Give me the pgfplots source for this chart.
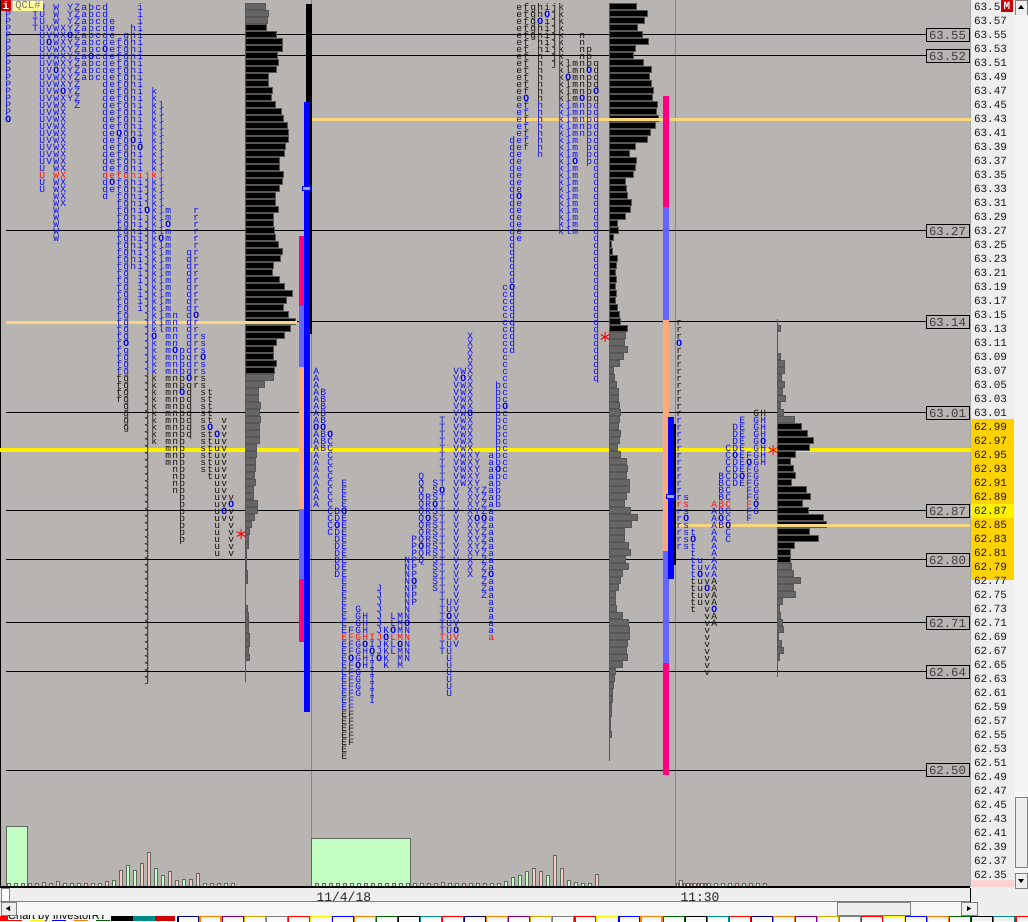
\documentclass[border=0pt]{standalone}
\usepackage{pgfplots}
\pgfplotsset{compat=1.18}
\usepackage{fontspec}
\setmainfont{Liberation Sans}
\newfontfamily\monofam{Liberation Mono}
\definecolor{bg}{HTML}{B8B4B2}
\definecolor{strip}{HTML}{EEEEEE}
\definecolor{zone}{HTML}{FFD200}
\definecolor{vpink}{HTML}{FF0080}
\definecolor{vlblue}{HTML}{6464FF}
\definecolor{vsalm}{HTML}{FFA878}
\definecolor{vblue}{HTML}{0000FF}
\definecolor{fawn}{HTML}{F6D67E}
\definecolor{poc}{HTML}{FFF000}
\definecolor{tpoB}{HTML}{1010F4}
\definecolor{tpoK}{HTML}{181410}
\definecolor{tpoO}{HTML}{0000E0}
\definecolor{tpoR}{HTML}{FF1010}
\definecolor{vg}{HTML}{C4FFC4}
\definecolor{vp}{HTML}{FFC8C8}
\definecolor{vedge}{HTML}{5E6A5E}
\definecolor{pgray}{HTML}{666666}
\definecolor{pedge}{HTML}{565656}
\definecolor{navy}{HTML}{000080}
\definecolor{gold}{HTML}{D4A800}
\definecolor{dgreen}{HTML}{006400}
\definecolor{tealx}{HTML}{008B8B}
% TPO letter stacks: a node holds one period's column, from top row to bottom row (in cents)
\newcount\tpoRow
\def\tpofont{\monofam\fontsize{9.6}{7}\selectfont}
\def\tpoGlyph#1#2{\ifnum\tpoRow=#2\relax\textcolor{tpoO}{\bfseries O}\else
  \ifnum\tpoRow=\tpoRed\relax\textcolor{tpoR}{#1}\else
  \ifnum\tpoRow>\tpoHi\relax\textcolor{tpoK}{#1}\else
  \ifnum\tpoRow<\tpoLo\relax\textcolor{tpoK}{#1}\else
  \textcolor{tpoB}{#1}\fi\fi\fi\fi}
\def\tpoCell#1#2{\hbox to 7pt{\hss\vbox to 7pt{\vss\hbox{\smash{\raisebox{0.3pt}{\tpoGlyph{#1}{#2}}}}}\hss}}
\def\tpoStack#1,#2,#3,#4\relax{\vbox{\offinterlineskip\tpoRow=#2\relax
  \loop\tpoCell{#1}{#4}\ifnum\tpoRow>#3\relax\advance\tpoRow by -1\repeat}}
\pgfplotsset{
  tpo/.style n args={3}{only marks,mark=none,point meta=explicit symbolic,
    every node near coord/.style={anchor=north,inner sep=0pt,outer sep=0pt,font=\tpofont,yshift=3.5pt,xshift=0.3pt},
    nodes near coords={\def\tpoHi{#1}\def\tpoLo{#2}\def\tpoRed{#3}\expandafter\tpoStack\pgfplotspointmeta\relax}},
  base/.style={at={(0,0)},anchor=south west,width=972pt,height=887pt,scale only axis,
    xmin=0,xmax=972,ymin=62.33286,ymax=63.6,axis lines=none},
  prof/.style={at={(0,0)},anchor=south west,width=972pt,height=887pt,scale only axis,
    xmin=-#1,xmax=972-#1,ymin=62.33286,ymax=63.6,axis lines=none,xbar,bar width=6pt,bar shift=0pt},
  pk/.style={fill=black,draw=pedge,line width=1pt},
  pg/.style={fill=pgray,draw=pedge,line width=1pt},
  rc/.style={fill=#1,draw=none},
  lvl/.style={black,line width=1pt,forget plot},
}
\begin{document}
\begin{tikzpicture}
\useasboundingbox (0,-34pt) rectangle (1028pt,887pt);
\begin{scope}[x=1pt,y=-1pt,yshift=887pt]
  \fill[white] (0,0) rectangle (1028,921);
  \fill[bg] (0,0) rectangle (971,887);
  \fill[strip] (971,0) rectangle (1014,887);
  \fill[zone] (971,419) rectangle (1014,580);
  \fill[yellow] (971,504) rectangle (1014,518);
  \fill[vp!80!white] (971,880) rectangle (1014,887);
  \fill[strip] (1014,0) rectangle (1028,887);
  \fill[gray!70] (970,0) rectangle (971,887);
  \fill[strip] (0,887) rectangle (1028,901);
  \fill[black] (0,0) rectangle (1,887);
  \fill[white!97!black] (0,901) rectangle (970,921);
  \fill[strip] (970,887) rectangle (1028,921);
  \draw[black] (970,888) -- (970,915) ;
  \draw[gray] (0,901.5) -- (970,901.5);
\end{scope}
% price axis, levels, session separators
\begin{axis}[at={(0,0)},anchor=south west,width=972pt,height=887pt,scale only axis,
  xmin=0,xmax=972,ymin=62.33286,ymax=63.6,
  axis x line*=bottom,axis y line*=right,axis line style={draw=none},
  major tick length=0pt,
  ytick={62.35,62.37,...,63.59},
  xtick={313,677},xticklabels={11/4/18,11:30},
  xticklabel style={anchor=west,yshift=-10pt,xshift=0pt,font=\monofam\fontsize{13}{13}\selectfont,text=black!85},
  yticklabel style={anchor=west,xshift=-1.5pt,font=\monofam\fontsize{11}{11}\selectfont,text=black!90,
    /pgf/number format/.cd,fixed,fixed zerofill,precision=2,assume math mode=true},
  ]
  \addplot[gray!90!bg,line width=1pt,forget plot] coordinates {(311.5,63.6)(311.5,62.33286)};
  \addplot[gray!90!bg,line width=1pt,forget plot] coordinates {(675.5,63.6)(675.5,62.33286)};
  \addplot[poc,line width=4pt,forget plot] coordinates {(0,62.9571)(971,62.9571)};
  \addplot[lvl] coordinates {(6,63.55)(926,63.55)};
  \addplot[lvl] coordinates {(6,63.52)(926,63.52)};
  \addplot[lvl] coordinates {(6,63.27)(926,63.27)};
  \addplot[lvl] coordinates {(6,63.14)(926,63.14)};
  \addplot[lvl] coordinates {(6,63.01)(926,63.01)};
  \addplot[lvl] coordinates {(6,62.87)(926,62.87)};
  \addplot[lvl] coordinates {(6,62.80)(926,62.80)};
  \addplot[lvl] coordinates {(6,62.71)(926,62.71)};
  \addplot[lvl] coordinates {(6,62.64)(926,62.64)};
  \addplot[lvl] coordinates {(6,62.50)(926,62.50)};
  \addplot[pedge,line width=1pt] coordinates {(245.5,63.02)(245.5,62.625)};
  \addplot[pedge,line width=1pt] coordinates {(609.5,62.6)(609.5,62.513)};
  \addplot[pedge,line width=1pt] coordinates {(777.5,63.144)(777.5,62.633)};
  \addplot[only marks,mark=none,point meta=explicit symbolic,
    every node near coord/.style={anchor=center,inner sep=0pt,draw=black,line width=1pt,fill=bg,
      minimum width=43pt,minimum height=13pt,text=black!75,font=\monofam\fontsize{12.3}{12}\selectfont},
    nodes near coords] coordinates {
    (947.5,63.55) [63.55] (947.5,63.52) [63.52] (947.5,63.27) [63.27] (947.5,63.14) [63.14]
    (947.5,63.01) [63.01] (947.5,62.87) [62.87] (947.5,62.80) [62.80] (947.5,62.71) [62.71]
    (947.5,62.64) [62.64] (947.5,62.50) [62.50]};
\end{axis}
% volume bars
\begin{axis}[at={(0,0)},anchor=south west,width=972pt,height=887pt,scale only axis,
  xmin=0,xmax=972,ymin=0,ymax=887,axis lines=none,ybar,bar shift=0pt]
  \addplot[fill=vg,draw=vedge,line width=1pt,bar width=21.5pt] coordinates {(17,60)};
  \addplot[fill=vg,draw=vedge,line width=1pt,bar width=99pt] coordinates {(361.3,48)};
  \addplot[fill=vg,draw=vedge,line width=1pt,bar width=2.6pt] coordinates {
    (9,3.7)(16,4)(65,4)(72,4)(79,4)(93,4)(100,4)(114,7)(128,22)(135,17)(156,19)(163,12)(184,8)(205,4)(226,4)
    (324,4)(338,4)(352,4)(359,4)(380,4)(387,4)(401,4)(408,4)(415,4)(422,4)(450,4)(457,4)(471,4)(478,4)(492,4)(499,4)(506,6)(513,10)(520,12)(527,16)(548,12)(569,7)(576,5)(583,4)(590,4)
    (715.7,4)(722.7,4)(729.7,4)(743.7,4)(757.7,4)};
  \addplot[fill=vp,draw=vedge,line width=1pt,bar width=2.6pt] coordinates {
    (23,4)(30,4)(37,4)(44,5)(51,4)(58,6)(86,4)(107,6)(121,17)(142,24)(149,34)(170,16)(177,7)(191,8)(198,14)(212,4)(219,4)(233,4)
    (317,4)(331,4)(345,4)(366,4)(373,4)(394,4)(429,4)(436,4)(443,5)(464,4)(485,4)(534,19)(541,16)(555,31)(562,19)(597,13)
    (677.3,3.5)(681,7)(684.5,3.7)(688,3.7)(691.5,3.7)(695,3.7)(698.5,3.7)(702,3.7)(705.5,3.7)(709,3.7)
    (736.7,4)(750.7,4)(764.7,4)};
\end{axis}
% left profile
\begin{axis}[prof=245]
  \addplot[pg] coordinates {(20,63.59)(23,63.58)(22,63.57)
   (28,63.06)(19,63.05)(13,63.04)(13,63.03)(15,63.02)(14,63.01)(15,63.00)(14,62.99)(14,62.98)(14,62.97)
   (11,62.96)(11,62.95)(10,62.94)(10,62.93)(9,62.92)(10,62.91)(8,62.90)(8,62.89)(12,62.88)(12,62.87)(9,62.86)
   (6,62.85)(4,62.84)(3,62.83)(3,62.82)(1,62.81)(1,62.80)(1,62.79)(2,62.78)(2,62.77)
   (2,62.73)(3,62.72)(3,62.71)(3,62.70)(4,62.69)(4,62.68)(3,62.67)(4,62.66)};
  \addplot[pk] coordinates {(21,63.56)(31,63.55)(37,63.54)(37,63.53)(32,63.52)(33,63.51)(31,63.50)(23,63.49)(23,63.48)(27,63.47)
   (26,63.46)(30,63.45)(36,63.44)(38,63.43)(42,63.42)(43,63.41)(43,63.40)(40,63.39)(39,63.38)(34,63.37)
   (34,63.36)(38,63.35)(37,63.34)(34,63.33)(30,63.32)(30,63.31)(33,63.30)(28,63.29)(28,63.28)(29,63.27)
   (30,63.26)(33,63.25)(37,63.24)(35,63.23)(28,63.22)(27,63.21)(34,63.20)(39,63.19)(47,63.18)(41,63.17)
   (38,63.16)(43,63.15)(50,63.14)(45,63.13)(39,63.12)(31,63.11)(28,63.10)(28,63.09)(31,63.08)(29,63.07)};
\end{axis}
% middle profile
\begin{axis}[prof=609]
  \addplot[pk] coordinates {(27,63.59)(38,63.58)(35,63.57)(28,63.56)(33,63.55)(39,63.54)(26,63.53)(24,63.52)(34,63.51)(42,63.50)
   (40,63.49)(42,63.48)(44,63.47)(43,63.46)(48,63.45)(47,63.44)(49,63.43)(46,63.42)(41,63.41)(38,63.40)
   (26,63.39)(20,63.38)(27,63.37)(26,63.36)(24,63.35)(16,63.34)(17,63.33)(18,63.32)(22,63.31)(21,63.30)
   (16,63.29)(8,63.28)(9,63.27)(4,63.26)(2,63.25)(3,63.24)(8,63.23)(7,63.22)(6,63.21)(7,63.20)
   (6,63.19)(7,63.18)(6,63.17)(8,63.16)(10,63.15)(11,63.14)(18,63.13)};
  \addplot[pg] coordinates {(16,63.12)(15,63.11)(18,63.10)(14,63.09)(10,63.08)(4,63.07)(5,63.06)(7,63.05)(9,63.04)(9,63.03)
   (10,63.02)(11,63.01)(10,63.00)(9,62.99)(11,62.98)(10,62.97)(8,62.96)(11,62.95)(17,62.94)(18,62.93)
   (17,62.92)(20,62.91)(20,62.90)(17,62.89)(15,62.88)(21,62.87)(28,62.86)(22,62.85)(15,62.84)(15,62.83)
   (19,62.82)(21,62.81)(16,62.80)(19,62.79)(13,62.78)(11,62.77)(9,62.76)(6,62.75)(6,62.74)(7,62.73)
   (13,62.72)(19,62.71)(20,62.70)(20,62.69)(18,62.68)(17,62.67)(18,62.66)(13,62.65)(6,62.64)(5,62.63)
   (4,62.62)(3,62.61)(3,62.60)(2,62.59)(2,62.58)(1,62.57)(1,62.56)(2,62.55)};
\end{axis}
% right profile
\begin{axis}[prof=777]
  \addplot[pg] coordinates {(3,63.13)(3,63.09)(7,63.08)(7,63.07)(4,63.06)(7,63.05)(5,63.04)(8,63.03)(3,63.02)(6,63.01)(17,63.00)
   (14,62.79)(16,62.78)(23,62.77)(16,62.76)(18,62.75)(5,62.74)(2,62.73)(3,62.72)(5,62.71)(6,62.70)(1,62.69)(4,62.68)(6,62.67)(2,62.66)};
  \addplot[pk] coordinates {(24,62.99)(30,62.98)(36,62.97)(32,62.96)(18,62.95)(13,62.94)(16,62.93)(18,62.92)(14,62.91)(29,62.90)
   (33,62.89)(25,62.88)(31,62.87)(46,62.86)(49,62.85)(32,62.84)(41,62.83)(17,62.82)(13,62.81)(13,62.80)};
\end{axis}
% value-area and range bars, developing levels, marks
\begin{axis}[base,clip=false]
  \addplot[fawn,line width=3pt] coordinates {(6,63.1386)(297,63.1386)};
  \addplot[fawn,line width=3pt] coordinates {(311,63.4286)(971,63.4286)};
  \addplot[fawn,line width=3pt] coordinates {(676,62.8486)(970,62.8486)};
  \addplot[rc=vpink] coordinates {(299,63.2629)(304,63.2629)(304,63.1629)(299,63.1629)} --cycle;
  \addplot[rc=vlblue] coordinates {(299,63.1629)(304,63.1629)(304,63.0757)(299,63.0757)} --cycle;
  \addplot[rc=vsalm] coordinates {(299,63.0757)(304,63.0757)(304,62.8729)(299,62.8729)} --cycle;
  \addplot[rc=vlblue] coordinates {(299,62.8729)(304,62.8729)(304,62.7729)(299,62.7729)} --cycle;
  \addplot[rc=vpink] coordinates {(299,62.7729)(304,62.7729)(304,62.6829)(299,62.6829)} --cycle;
  \addplot[rc=black] coordinates {(306,63.5943)(312,63.5943)(312,63.1229)(306,63.1229)} --cycle;
  \addplot[rc=vblue] coordinates {(304,63.4543)(310,63.4543)(310,62.5829)(304,62.5829)} --cycle;
  \addplot[fill=vlblue!60!white,draw=vblue,line width=.6pt] coordinates {(302.5,63.3343)(310.5,63.3343)(310.5,63.3286)(302.5,63.3286)} --cycle;
  \addplot[rc=vpink] coordinates {(663,63.4629)(669,63.4629)(669,63.3043)(663,63.3043)} --cycle;
  \addplot[rc=vlblue] coordinates {(663,63.3043)(669,63.3043)(669,63.1429)(663,63.1429)} --cycle;
  \addplot[rc=vsalm] coordinates {(663,63.1429)(669,63.1429)(669,62.8129)(663,62.8129)} --cycle;
  \addplot[rc=vlblue] coordinates {(663,62.8129)(669,62.8129)(669,62.6529)(663,62.6529)} --cycle;
  \addplot[rc=vpink] coordinates {(663,62.6529)(669,62.6529)(669,62.4929)(663,62.4929)} --cycle;
  \addplot[rc=vblue] coordinates {(668,63.0043)(674,63.0043)(674,62.7729)(668,62.7729)} --cycle;
  \addplot[rc=black] coordinates {(674,62.9943)(676,62.9943)(676,62.7929)(674,62.7929)} --cycle;
  \addplot[fill=vlblue!60!white,draw=vblue,line width=.6pt] coordinates {(666,62.8943)(674,62.8943)(674,62.8886)(666,62.8886)} --cycle;
  \addplot[only marks,mark=asterisk,mark size=5pt,color=red,mark options={line width=1pt}] coordinates {(241,62.8371)(605,63.1186)(773,62.9571)};
\end{axis}
% TPO letters: (x, top row) [letter, top row, bottom row, opening-mark row]
\begin{axis}[at={(0,0)},anchor=south west,width=972pt,height=887pt,scale only axis,
  xmin=0,xmax=972,ymin=6233.286,ymax=6360,axis lines=none,clip=false]
  \addplot[tpo={6360}{6307}{6335}] coordinates {
   (8,6359) [P,6359,6343,6343] (35,6359) [T,6359,6356,0] (42,6359) [U,6359,6333,0] (49,6356) [V,6356,6337,6354]
   (56,6359) [W,6359,6326,6350] (63,6356) [X,6356,6331,6347] (70,6359) [Y,6359,6346,6355] (77,6359) [Z,6359,6345,0]
   (84,6359) [a,6359,6349,0] (91,6359) [b,6359,6349,6352] (98,6359) [c,6359,6349,0] (105,6359) [d,6359,6332,6353]
   (112,6357) [e,6357,6333,6334] (119,6354) [f,6354,6303,6341] (126,6355) [g,6355,6299,6311] (133,6356) [h,6356,6322,6340]
   (140,6359) [i,6359,6316,6339] (147,6335) [j,6335,6263,6330] (154,6347) [k,6347,6297,6312] (161,6345) [l,6345,6313,6326]
   (168,6330) [m,6330,6294,6328] (175,6315) [n,6315,6290,6310] (182,6310) [p,6310,6283,6304] (189,6324) [q,6324,6298,6306]
   (196,6330) [r,6330,6305,6315] (203,6312) [s,6312,6293,6309] (210,6304) [t,6304,6292,6299] (217,6298) [u,6298,6281,6298]
   (224,6300) [v,6300,6286,6287] (231,6289) [v,6289,6281,6288]};
  \addplot[tpo={6345}{6259}{6269}] coordinates {
   (316,6307) [A,6307,6288,6299] (323,6304) [B,6304,6296,6299] (330,6298) [C,6298,6284,6298] (337,6287) [D,6287,6278,6285]
   (344,6291) [E,6291,6252,6287] (351,6270) [F,6270,6254,6266] (358,6273) [G,6273,6261,6265] (365,6272) [H,6272,6265,6268]
   (372,6269) [I,6269,6260,6267] (379,6276) [J,6276,6266,6266] (386,6270) [K,6270,6265,6269] (393,6272) [L,6272,6267,6270]
   (400,6272) [M,6272,6265,6268] (407,6280) [N,6280,6266,6271] (414,6283) [P,6283,6274,6277] (421,6292) [Q,6292,6280,6282]
   (428,6289) [R,6289,6281,6286] (435,6291) [S,6291,6276,6288] (442,6300) [T,6300,6267,6290] (449,6274) [U,6274,6261,6272]
   (456,6307) [V,6307,6268,6270] (463,6307) [W,6307,6291,6306] (470,6312) [X,6312,6278,6301] (477,6295) [Y,6295,6281,6286]
   (484,6290) [Z,6290,6275,6286] (491,6295) [a,6295,6269,6278] (498,6305) [b,6305,6288,6293] (505,6319) [c,6319,6292,6302]
   (512,6340) [d,6340,6310,6319] (519,6359) [e,6359,6326,6332] (526,6359) [f,6359,6339,6346] (533,6359) [g,6359,6355,0]
   (540,6359) [h,6359,6338,6357] (547,6359) [i,6359,6353,6358] (554,6359) [j,6359,6351,0] (561,6359) [k,6359,6327,0]
   (568,6351) [l,6351,6327,6349] (575,6351) [m,6351,6327,6337] (582,6355) [n,6355,6341,6346] (589,6353) [p,6353,6337,6350]
   (596,6351) [q,6351,6306,6347]};
  \addplot[tpo={6300}{6278}{6288}] coordinates {
   (679,6314) [r,6314,6282,6311] (686,6289) [s,6289,6282,6286] (693,6284) [t,6284,6273,6283] (700,6280) [u,6280,6274,6278]
   (707,6279) [v,6279,6264,6276] (714,6288) [A,6288,6271,6273] (721,6292) [B,6292,6285,6286] (728,6296) [C,6296,6283,6285]
   (735,6299) [D,6299,6291,6295] (742,6300) [E,6300,6291,6292] (749,6295) [F,6295,6286,6294] (756,6301) [G,6301,6287,6288]
   (763,6301) [H,6301,6294,6297]};
\end{axis}
% window furniture
\begin{scope}[x=1pt,y=-1pt,yshift=887pt]
  \fill[black] (0,886) rectangle (970,888);
  \fill[red!80!black] (1,0) rectangle (11,11);
  \node[text=white,font=\monofam\bfseries\fontsize{11}{11}\selectfont,inner sep=0] at (6,5.5) {i};
  \fill[yellow!40!white] (13,1) rectangle (43,11);
  \node[text=black!55,font=\monofam\fontsize{10.5}{10}\selectfont,inner sep=0] at (28,6) {QCL\#};
  \fill[red!80!black] (1001,0) rectangle (1013,12);
  \node[text=white,font=\monofam\bfseries\fontsize{11}{11}\selectfont,inner sep=0] at (1007,6) {M};
  % scroll bars
  \draw[black!50,fill=strip] (1015,0.5) rectangle (1027,15);
  \fill[black] (1018,9) -- (1024,9) -- (1021,5) -- cycle;
  \fill[white!96!black] (1014,15) rectangle (1028,873);
  \draw[black!50,fill=strip] (1015,797) rectangle (1027,867);
  \draw[black!50,fill=strip] (1015,873) rectangle (1027,888);
  \fill[black] (1018,879) -- (1024,879) -- (1021,883) -- cycle;
  \draw[black!50,fill=strip] (1,902) rectangle (16,915);
  \fill[black] (10,906) -- (10,911) -- (6,908.5) -- cycle;
  \draw[black!50,fill=strip] (837,902) rectangle (910,915);
  \draw[black!50,fill=strip] (961,902) rectangle (977,915);
  \fill[black] (967,906) -- (967,911) -- (971,908.5) -- cycle;
  \draw[black!50,fill=white] (1,888) rectangle (9,901);
  % tabs
  \begin{scope}
    \clip (8,915) rectangle (110,921);
    \node[anchor=west,inner sep=0,text=black,font=\fontsize{11}{11}\selectfont] at (8,917) {Chart by InvestorRT};
  \end{scope}
  \fill[red] (0,916) rectangle (8,921);
  \foreach \x/\c in {8/red,30/yellow,52/blue,74/orange,96/dgreen}{\draw[\c,line width=1.2pt] (\x,920.5) -- (\x+14,920.5);}
  \fill[black] (111,916) rectangle (133,921);
  \fill[tealx] (133,916) rectangle (155,921);
  \fill[red!80!black] (155,916) rectangle (175,921);
  \foreach \c [count=\i from 0] in {navy,orange,violet,gold,gray,red,yellow,blue,orange,dgreen,black,tealx,red,
     navy,orange,violet,gold,gray,red,yellow,blue,orange,dgreen,black,tealx,red,
     navy,orange,violet,gold,gray,red,yellow,blue,orange,dgreen,black,tealx,red}{
    \draw[\c,line width=1.2pt] ({178+22.05*\i},922) -- ({178+22.05*\i},916.6) -- ({199+22.05*\i},916.6) -- ({199+22.05*\i},922);}
\end{scope}
\end{tikzpicture}
\end{document}
